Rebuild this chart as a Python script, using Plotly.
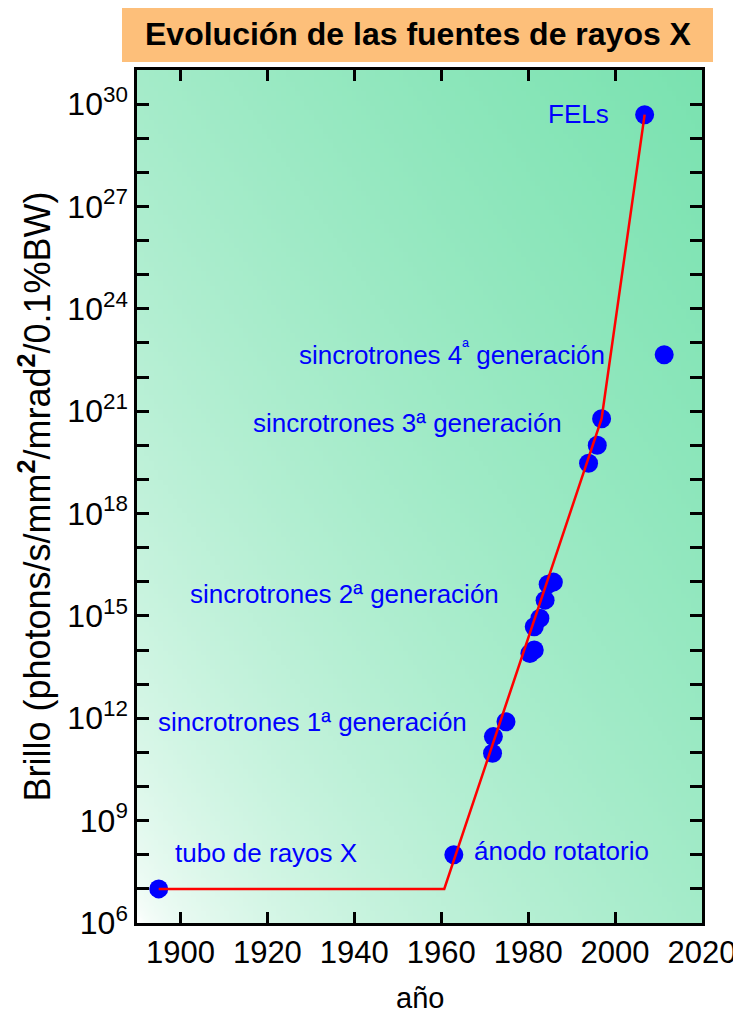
import zlib, struct, base64
import plotly.graph_objects as go

# ---------------- data ----------------
tube_year = [1895]
tube_brillo = [1.0e7]
anode_year = [1962.9]
anode_brillo = [1.0e8]
gen1_year = [1971.8, 1972.0, 1974.9]
gen1_brillo = [9.5e10, 2.9e11, 7.9e11]
gen2_year = [1980.4, 1981.4, 1981.4, 1982.7, 1983.9, 1984.6, 1985.8]
gen2_brillo = [7.9e13, 1.0e14, 4.8e14, 8.5e14, 2.9e15, 8.5e15, 9.8e15]
gen3_year = [1993.9, 1995.9, 1996.9]
gen3_brillo = [3.0e19, 1.0e20, 6.0e20]
gen4_year = [2011.3]
gen4_brillo = [4.5e22]
fel_year = [2006.8]
fel_brillo = [4.9e29]
trend_year = [1895, 1960.7, 1996.9, 2006.8]
trend_brillo = [1.0e7, 1.0e7, 6.0e20, 4.9e29]

x_ticks = [1900, 1920, 1940, 1960, 1980, 2000, 2020]
y_exponents = list(range(6, 32))
y_label_exponents = [6, 9, 12, 15, 18, 21, 24, 27, 30]

# ---------------- background gradient image ----------------
def make_gradient_png(w, h):
    green = (122, 226, 176)
    raw = bytearray()
    for j in range(h):
        v = 1 - j / (h - 1)
        raw.append(0)
        for i in range(w):
            u = i / (w - 1)
            t = ((u + v) / 2) ** 0.55
            raw.extend(int(round(255 + (c - 255) * t)) for c in green)
    def chunk(tag, data):
        return (struct.pack('>I', len(data)) + tag + data +
                struct.pack('>I', zlib.crc32(tag + data) & 0xffffffff))
    png = (b'\x89PNG\r\n\x1a\n' +
           chunk(b'IHDR', struct.pack('>IIBBBBB', w, h, 8, 2, 0, 0, 0)) +
           chunk(b'IDAT', zlib.compress(bytes(raw), 9)) +
           chunk(b'IEND', b''))
    return 'data:image/png;base64,' + base64.b64encode(png).decode()

bg_src = make_gradient_png(120, 180)

FONT = "Liberation Sans, Arial, Helvetica, sans-serif"

fig = go.Figure()

marker = dict(color='#0000FF', size=19, line=dict(width=0))
for xs, ys in [(tube_year, tube_brillo), (anode_year, anode_brillo),
               (gen1_year, gen1_brillo), (gen2_year, gen2_brillo),
               (gen3_year, gen3_brillo), (gen4_year, gen4_brillo),
               (fel_year, fel_brillo)]:
    fig.add_trace(go.Scatter(x=xs, y=ys, mode='markers', marker=marker,
                             showlegend=False))
fig.add_trace(go.Scatter(x=trend_year, y=trend_brillo, mode='lines',
                         line=dict(color='#FF0000', width=2.5), showlegend=False,
                         hoverinfo='skip'))

labels = [
    ("FELs", 1999.1, 29.7, 'right'),
    ("sincrotrones 4<sup>ª</sup> generación", 1998.2, 22.69, 'right'),
    ("sincrotrones 3ª generación", 1988.3, 20.64, 'right'),
    ("sincrotrones 2ª generación", 1973.8, 15.64, 'right'),
    ("sincrotrones 1ª generación", 1966.3, 11.89, 'right'),
    ("tubo de rayos X", 1898.3, 8.06, 'left'),
    ("ánodo rotatorio", 1967.0, 8.12, 'left'),
]
for txt, x, y, anc in labels:
    fig.add_annotation(x=x, y=y, xref='x', yref='y', text=txt, showarrow=False,
                       xanchor=anc, yanchor='middle',
                       font=dict(family=FONT, size=26, color='#0000FF'))

# title box
fig.add_shape(type='rect', xref='paper', yref='paper',
              x0=(122 - 137) / 565, x1=(713 - 137) / 565,
              y0=(923 - 62) / 853, y1=(923 - 5) / 853,
              fillcolor='#FDBF7A', line=dict(width=0), layer='above')
fig.add_annotation(xref='paper', yref='paper', x=(418 - 137) / 565,
                   y=(923 - 34) / 853, text="<b>Evolución de las fuentes de rayos X</b>",
                   showarrow=False, xanchor='center', yanchor='middle',
                   font=dict(family=FONT, size=32, color='black'))
# x-axis title
fig.add_annotation(xref='paper', yref='paper', x=(420 - 137) / 565,
                   y=(923 - 998) / 853, text="año",
                   showarrow=False, xanchor='center', yanchor='middle',
                   font=dict(family=FONT, size=29, color='black'))

fig.add_layout_image(dict(source=bg_src, xref='paper', yref='paper', x=0, y=1,
                          sizex=1, sizey=1, sizing='stretch', layer='below',
                          xanchor='left', yanchor='top'))

y_vals = [10.0 ** k for k in y_exponents]
y_text = [("10<sup>%d</sup>" % k) if k in y_label_exponents else "" for k in y_exponents]

# the page body has an 8px margin, so the figure is offset by 8px
fig.update_layout(
    width=733, height=1009,
    margin=dict(l=129, r=39, t=62, b=94),
    paper_bgcolor='white', plot_bgcolor='rgba(0,0,0,0)',
    font=dict(family=FONT, color='black'),
    xaxis=dict(range=[1890, 2020], tickvals=x_ticks, ticktext=[str(v) for v in x_ticks],
               ticks='inside', ticklen=11, tickwidth=2.5, tickcolor='black',
               showline=True, linewidth=2.5, linecolor='black', mirror='ticks',
               showgrid=False, zeroline=False, automargin=False,
               ticklabeloverflow='allow',
               tickfont=dict(family=FONT, size=31)),
    yaxis=dict(type='log', range=[6, 31], tickvals=y_vals, ticktext=y_text,
               ticks='inside', ticklen=12, tickwidth=2.5, tickcolor='black',
               showline=True, linewidth=2.5, linecolor='black', mirror='ticks',
               showgrid=False, zeroline=False, automargin=False,
               ticklabeloverflow='allow',
               tickfont=dict(family=FONT, size=32),
               title=dict(text="Brillo (photons/s/mm<sup><b>2</b></sup>/mrad<sup><b>2</b></sup>/0.1%BW)",
                          font=dict(family=FONT, size=36), standoff=6)),
)

fig.write_html("out.html")
